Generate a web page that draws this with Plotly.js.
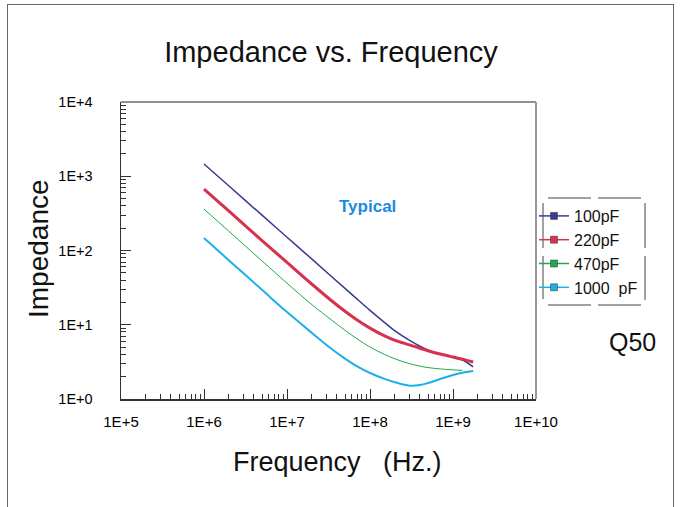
<!DOCTYPE html>
<html>
<head>
<meta charset="utf-8">
<script src="https://cdn.plot.ly/plotly-3.0.1.min.js"></script>
<style>
html,body{margin:0;padding:0;background:#fff;}
#chart{position:absolute;left:0;top:0;width:680px;height:507px;}
#frame{position:absolute;left:7px;top:4px;width:665px;height:520px;border:1.5px solid #666;border-bottom:none;pointer-events:none;}
</style>
</head>
<body>
<div id="chart"></div>
<div id="frame"></div>
<script>
// Frequency (Hz)
var freq = [1e6, 2e6, 5e6, 1e7, 2e7, 3.3e7, 5e7, 7e7, 1e8, 1.5e8, 2e8, 3e8, 4e8, 5e8, 7e8, 1e9, 1.3e9, 1.75e9];
// Impedance (ohm) per capacitance
var z100pF  = [1460, 738, 299, 151, 76.4, 46.5, 30.9, 22.1, 15.6, 10.7, 8.25, 6.15, 5.13, 4.57, 4.03, 3.63, 3.35, 2.7];
var z220pF  = [673, 338, 136, 69, 35.1, 21.9, 15.2, 11.6, 9.02, 7.08, 6.17, 5.35, 4.82, 4.47, 4.03, 3.67, 3.44, 3.15];
var z470pF  = [362, 181, 72.4, 36.3, 18.6, 12.0, 8.41, 6.46, 5.01, 3.98, 3.47, 2.99, 2.77, 2.65, 2.54, 2.47, 2.43];
var z1000pF = [147, 73.6, 29.5, 14.8, 7.76, 4.9, 3.5, 2.75, 2.24, 1.87, 1.68, 1.51, 1.54, 1.64, 1.86, 2.11, 2.26, 2.38];

var seriesNames = ['100pF', '220pF', '470pF', '1000 \u00a0pF'];
var seriesVals = [z100pF, z220pF, z470pF, z1000pF];
var lineColors = ['#3b3a91', '#d73150', '#21a850', '#1bb0ea'];
var lineWidths = [1.5, 3, 1, 2];

var yTickVals = [1, 10, 100, 1000, 10000];
var yTickText = ['1E+0', '1E+1', '1E+2', '1E+3', '1E+4'];
var xTickVals = [1e5, 1e6, 1e7, 1e8, 1e9, 1e10];
var xTickText = ['1E+5', '1E+6', '1E+7', '1E+8', '1E+9', '1E+10'];

function minorVals(lo, hi) {
  var v = [];
  for (var e = lo; e < hi; e++) for (var d = 2; d <= 9; d++) v.push(d * Math.pow(10, e));
  return v;
}

var traces = [];
for (var i = 0; i < seriesVals.length; i++) {
  traces.push({
    x: freq.slice(0, seriesVals[i].length), y: seriesVals[i],
    type: 'scatter', mode: 'lines', showlegend: false,
    line: {color: lineColors[i], width: lineWidths[i], shape: 'spline', smoothing: 1.0},
    hoverinfo: 'skip'
  });
}
for (var j = 0; j < seriesVals.length; j++) {
  traces.push({
    x: [null], y: [null], type: 'scatter', mode: 'lines+markers', name: seriesNames[j],
    line: {color: lineColors[j], width: 1.5},
    marker: {symbol: 'square', size: 7, color: lineColors[j], line: {color: '#333', width: 0.5}}
  });
}

var fontFam = 'Liberation Sans, Arial, Helvetica, sans-serif';
var txt = '#111';
var layout = {
  width: 680, height: 507,
  margin: {l: 121, r: 144, t: 102, b: 108},
  paper_bgcolor: '#fff', plot_bgcolor: '#fff',
  font: {family: fontFam, color: txt},
  title: {text: 'Impedance vs. Frequency', font: {size: 29, color: txt, family: fontFam},
          x: 331/680, xanchor: 'center', xref: 'container', y: 1 - 52/507, yanchor: 'middle', yref: 'container'},
  xaxis: {
    type: 'log', range: [5, 10], showgrid: false, zeroline: false,
    tickmode: 'array', tickvals: xTickVals, ticktext: xTickText,
    ticks: 'inside', ticklen: 10, tickwidth: 1, tickcolor: '#333',
    linecolor: '#333', linewidth: 2, showline: true, mirror: false,
    tickfont: {size: 15, color: '#000', family: fontFam}, ticklabelstandoff: 8,
    minor: {tickmode: 'array', tickvals: minorVals(5, 10), ticks: 'inside', ticklen: 5, tickwidth: 1, tickcolor: '#333', showgrid: false}
  },
  yaxis: {
    type: 'log', range: [0, 4], showgrid: false, zeroline: false,
    tickmode: 'array', tickvals: yTickVals, ticktext: yTickText,
    ticks: 'inside', ticklen: 10, tickwidth: 1, tickcolor: '#333',
    linecolor: '#333', linewidth: 1.5, showline: true, mirror: false,
    tickfont: {size: 14.5, color: '#000', family: fontFam}, ticklabelstandoff: 24,
    minor: {tickmode: 'array', tickvals: minorVals(0, 4), ticks: 'inside', ticklen: 5, tickwidth: 1, tickcolor: '#333', showgrid: false}
  },
  showlegend: true,
  legend: {x: (534 - 121)/415, xanchor: 'left', y: (399 - 199)/297, yanchor: 'top',
           bgcolor: 'rgba(0,0,0,0)', borderwidth: 0, font: {size: 16, color: txt, family: fontFam},
           tracegroupgap: 0},
  shapes: [
    {type: 'line', xref: 'paper', yref: 'paper', x0: 0, x1: 1, y0: 1, y1: 1, line: {color: '#222', width: 1}},
    {type: 'line', xref: 'paper', yref: 'paper', x0: 1, x1: 1, y0: 0, y1: 1, line: {color: '#999', width: 2}},
    // legend frame segments
    {type: 'line', xref: 'paper', yref: 'paper', x0: (548-121)/415, x1: (591-121)/415, y0: (399-198)/297, y1: (399-198)/297, line: {color: '#444', width: 1}},
    {type: 'line', xref: 'paper', yref: 'paper', x0: (598-121)/415, x1: (641-121)/415, y0: (399-198)/297, y1: (399-198)/297, line: {color: '#444', width: 1}},
    {type: 'line', xref: 'paper', yref: 'paper', x0: (548-121)/415, x1: (591-121)/415, y0: (399-305)/297, y1: (399-305)/297, line: {color: '#444', width: 1}},
    {type: 'line', xref: 'paper', yref: 'paper', x0: (598-121)/415, x1: (641-121)/415, y0: (399-305)/297, y1: (399-305)/297, line: {color: '#444', width: 1}},
    {type: 'line', xref: 'paper', yref: 'paper', x0: (543-121)/415, x1: (543-121)/415, y0: (399-203)/297, y1: (399-248)/297, line: {color: '#444', width: 1}},
    {type: 'line', xref: 'paper', yref: 'paper', x0: (543-121)/415, x1: (543-121)/415, y0: (399-256)/297, y1: (399-299)/297, line: {color: '#444', width: 1}},
    {type: 'line', xref: 'paper', yref: 'paper', x0: (645-121)/415, x1: (645-121)/415, y0: (399-203)/297, y1: (399-248)/297, line: {color: '#444', width: 1}},
    {type: 'line', xref: 'paper', yref: 'paper', x0: (645-121)/415, x1: (645-121)/415, y0: (399-256)/297, y1: (399-300)/297, line: {color: '#444', width: 1}}
  ],
  annotations: [
    {text: 'Impedance', xref: 'paper', yref: 'paper', x: (38-121)/415, y: (399-249)/297, textangle: -90,
     showarrow: false, xanchor: 'center', yanchor: 'middle', font: {size: 28, color: txt, family: fontFam}},
    {text: 'Frequency \u00a0 (Hz.)', xref: 'paper', yref: 'paper', x: (337-121)/415, y: (399-462)/297,
     showarrow: false, xanchor: 'center', yanchor: 'middle', font: {size: 27, color: txt, family: fontFam}},
    {text: '<b>Typical</b>', xref: 'paper', yref: 'paper', x: (367-121)/415, y: (399-206)/297,
     showarrow: false, xanchor: 'center', yanchor: 'middle', font: {size: 17, color: '#1b8be0', family: fontFam}},
    {text: 'Q50', xref: 'paper', yref: 'paper', x: (632-121)/415, y: (399-342)/297,
     showarrow: false, xanchor: 'center', yanchor: 'middle', font: {size: 25, color: txt, family: fontFam}}
  ]
};

Plotly.newPlot('chart', traces, layout, {displayModeBar: false, staticPlot: true});
</script>
</body>
</html>
